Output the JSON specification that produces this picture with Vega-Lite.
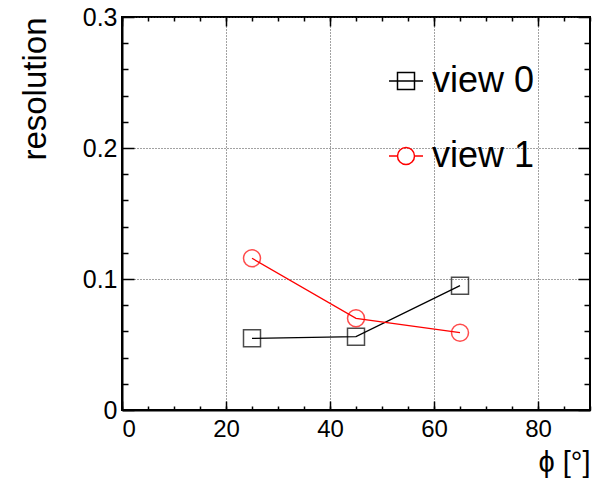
{
  "$schema": "https://vega.github.io/schema/vega-lite/v6.json",
  "width": 468,
  "height": 393,
  "autosize": {"type": "none"},
  "padding": {"left": 122, "top": 17, "right": 3, "bottom": 72},
  "background": "white",
  "config": {
    "view": {"stroke": "black", "strokeWidth": 2},
    "font": "Liberation Sans"
  },
  "data": {
    "values": [
      {"phi": 25, "res": 0.0547, "series": "view 0"},
      {"phi": 45, "res": 0.0560, "series": "view 0"},
      {"phi": 65, "res": 0.0949, "series": "view 0"},
      {"phi": 25, "res": 0.1158, "series": "view 1"},
      {"phi": 45, "res": 0.0700, "series": "view 1"},
      {"phi": 65, "res": 0.0590, "series": "view 1"}
    ]
  },
  "resolve": {"axis": {"x": "independent", "y": "independent"}},
  "layer": [
    {
      "mark": {"type": "line", "strokeWidth": 1.3},
      "encoding": {
        "x": {"field": "phi", "type": "quantitative", "scale": {"domain": [0, 90], "nice": false, "zero": false},
          "axis": {"orient": "bottom", "values": [0, 20, 40, 60, 80], "grid": true, "gridDash": [1, 2], "gridColor": "#444", "gridWidth": 1, "ticks": false, "labelPadding": 7, "labelFontSize": 24, "labelColor": "black", "labelFont": "Liberation Sans", "domain": true, "domainWidth": 2, "domainColor": "black",
            "title": "ϕ [°]", "titleFontSize": 29, "titleFont": "Liberation Sans", "titleFontWeight": "normal", "titleColor": "black", "titleAnchor": "end", "titleAlign": "right", "titleX": 468, "titleY": 61, "titleBaseline": "alphabetic"}},
        "y": {"field": "res", "type": "quantitative", "scale": {"domain": [0, 0.3], "nice": false},
          "axis": {"orient": "left", "values": [0, 0.1, 0.2, 0.3], "grid": true, "gridDash": [1, 2], "gridColor": "#444", "gridWidth": 1, "ticks": false, "labelPadding": 5, "labelFontSize": 25, "labelColor": "black", "labelFont": "Liberation Sans", "domain": true, "domainWidth": 2, "domainColor": "black",
            "labelExpr": "datum.value == 0 ? '0' : format(datum.value, '.1f')",
            "title": "resolution", "titleFontSize": 33, "titleFont": "Liberation Sans", "titleFontWeight": "normal", "titleColor": "black", "titleAngle": -90, "titleAnchor": "end", "titleAlign": "right", "titleBaseline": "middle", "titleX": -87, "titleY": 0}},
        "color": {"field": "series", "type": "nominal", "scale": {"domain": ["view 0", "view 1"], "range": ["black", "#ff0000"]},
          "legend": {"orient": "none", "legendX": 266, "legendY": 46, "title": null, "padding": 0, "symbolSize": 1156, "symbolStrokeWidth": 1.5, "symbolFillColor": "transparent", "labelFontSize": 36, "labelFont": "Liberation Sans", "labelColor": "black", "labelOffset": 8, "rowPadding": 39, "labelLimit": 300,
            "encode": {"symbols": {"update": {"shape": {"signal": "datum.value == 'view 0' ? 'M-1,0H1M-0.5,-0.5H0.5V0.5H-0.5Z' : 'M-1,0H-0.5M0.5,0H1M0.5,0A0.5,0.5 0 1,1 -0.5,0A0.5,0.5 0 1,1 0.5,0Z'"}, "fill": {"value": "transparent"}}}}}}
      }
    },
    {
      "transform": [{"filter": "datum.series == 'view 0'"}],
      "mark": {"type": "point", "filled": false, "size": 289, "strokeWidth": 1.5, "shape": "square", "color": "black"},
      "encoding": {
        "x": {"field": "phi", "type": "quantitative", "axis": {"orient": "bottom", "values": [0, 20, 40, 60, 80], "labels": false, "domain": false, "grid": false, "tickSize": 9, "offset": -9, "tickColor": "black", "tickWidth": 1.5, "title": null}},
        "y": {"field": "res", "type": "quantitative", "axis": {"orient": "left", "values": [0, 0.1, 0.2, 0.3], "labels": false, "domain": false, "grid": false, "tickSize": 12, "offset": -12, "tickColor": "black", "tickWidth": 1.5, "title": null}}
      }
    },
    {
      "transform": [{"filter": "datum.series == 'view 1'"}],
      "mark": {"type": "point", "filled": false, "size": 289, "strokeWidth": 1.5, "shape": "circle", "color": "#ff0000"},
      "encoding": {
        "x": {"field": "phi", "type": "quantitative", "axis": {"orient": "bottom", "values": [0,5,10,15,20,25,30,35,40,45,50,55,60,65,70,75,80,85,90], "labels": false, "domain": false, "grid": false, "tickSize": 4, "offset": -4, "tickColor": "black", "tickWidth": 1.5, "title": null}},
        "y": {"field": "res", "type": "quantitative", "axis": {"orient": "left", "values": [0.02,0.04,0.06,0.08,0.12,0.14,0.16,0.18,0.22,0.24,0.26,0.28], "labels": false, "domain": false, "grid": false, "tickSize": 6, "offset": -6, "tickColor": "black", "tickWidth": 1.5, "title": null}}
      }
    },
    {
      "mark": {"type": "line", "opacity": 0},
      "encoding": {
        "x": {"field": "phi", "type": "quantitative", "axis": {"orient": "top", "values": [0, 20, 40, 60, 80], "labels": false, "domain": false, "grid": false, "tickSize": 9, "offset": -9, "tickColor": "black", "tickWidth": 1.5, "title": null}},
        "y": {"field": "res", "type": "quantitative", "axis": {"orient": "right", "values": [0, 0.1, 0.2, 0.3], "labels": false, "domain": false, "grid": false, "tickSize": 12, "offset": -12, "tickColor": "black", "tickWidth": 1.5, "title": null}},
        "detail": {"field": "series"}
      }
    },
    {
      "mark": {"type": "line", "opacity": 0},
      "encoding": {
        "x": {"field": "phi", "type": "quantitative", "axis": {"orient": "top", "values": [0,5,10,15,20,25,30,35,40,45,50,55,60,65,70,75,80,85,90], "labels": false, "domain": false, "grid": false, "tickSize": 4, "offset": -4, "tickColor": "black", "tickWidth": 1.5, "title": null}},
        "y": {"field": "res", "type": "quantitative", "axis": {"orient": "right", "values": [0.02,0.04,0.06,0.08,0.12,0.14,0.16,0.18,0.22,0.24,0.26,0.28], "labels": false, "domain": false, "grid": false, "tickSize": 6, "offset": -6, "tickColor": "black", "tickWidth": 1.5, "title": null}},
        "detail": {"field": "series"}
      }
    }
  ]
}
